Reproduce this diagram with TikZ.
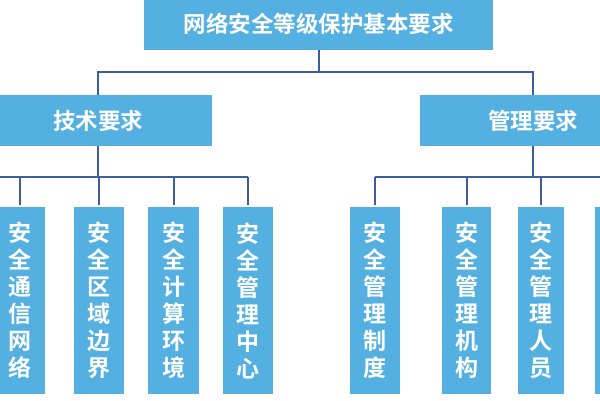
\documentclass[tikz,border=0pt]{standalone}
\usepackage{fontspec}
\setmainfont{Noto Sans CJK SC}[BoldFont={* Bold}]
\definecolor{boxblue}{RGB}{84,176,224}
\definecolor{linecol}{RGB}{62,92,158}
\begin{document}
\begin{tikzpicture}[x=1pt,y=-1pt,
  box/.style={fill=boxblue,draw=none,text=white,font=\bfseries\fontsize{22.5}{27}\selectfont,inner sep=0pt,anchor=center},
  vbox/.style={box,font=\bfseries\fontsize{23}{27}\selectfont,align=center,minimum height=187pt},
  conn/.style={draw=linecol,line width=2pt}]
\useasboundingbox (0,0) rectangle (600,400);
\clip (0,0) rectangle (600,400);
\node[box,minimum width=349pt,minimum height=52pt] (top) at (318.5,24) {网络安全等级保护基本要求};
\node[box,minimum width=228pt,minimum height=51pt] (tech) at (98,120.5) {技术要求};
\node[box,minimum width=226pt,minimum height=51pt] (mgmt) at (533,120.5) {管理要求};
% technical children
\node[vbox,minimum width=50pt] (t1) at (20,300.5) {安\\全\\通\\信\\网\\络};
\node[vbox,minimum width=50pt] (t2) at (99,300.5) {安\\全\\区\\域\\边\\界};
\node[vbox,minimum width=51pt] (t3) at (173.5,300.5) {安\\全\\计\\算\\环\\境};
\node[vbox,minimum width=50pt] (t4) at (248,300.5) {安\\全\\管\\理\\中\\心};
% management children
\node[vbox,minimum width=50pt] (m1) at (375,300.5) {安\\全\\管\\理\\制\\度};
\node[vbox,minimum width=49pt] (m2) at (466.5,300.5) {安\\全\\管\\理\\机\\构};
\node[vbox,minimum width=46pt] (m3) at (540.5,300.5) {安\\全\\管\\理\\人\\员};
\node[vbox,minimum width=50pt] (m4) at (620,300.5) {};
% bus coordinates
\coordinate (bus0) at (0,72);
\coordinate (busT) at (0,177);
\coordinate (leftend) at (-10,177);
\coordinate (rightend) at (610,177);
% top level connectors
\draw[conn] (top.south) -- (top.south |- bus0) -| (tech.north);
\draw[conn] (top.south |- bus0) -| (mgmt.north);
% technical bus
\draw[conn] (tech.south) -- (tech.south |- busT);
\draw[conn] (leftend) -- (t4.north |- busT);
\foreach \c in {t1,t2,t3,t4}{
  \draw[conn,shorten <=2pt] (\c.north) -- (\c.north |- busT);
}
% management bus
\draw[conn] (mgmt.south) -- (mgmt.south |- busT);
\draw[conn] (m1.north |- busT) -- (rightend);
\foreach \c in {m1,m2,m3,m4}{
  \draw[conn,shorten <=2pt] (\c.north) -- (\c.north |- busT);
}
\end{tikzpicture}
\end{document}
